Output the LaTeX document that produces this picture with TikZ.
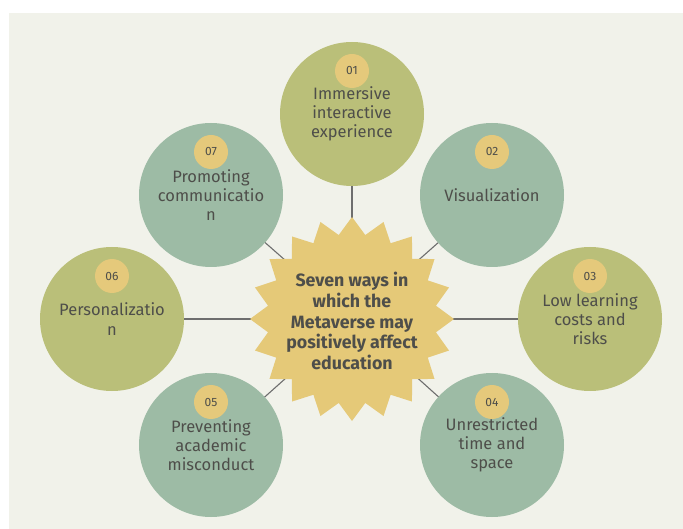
\documentclass[tikz,border=0pt]{standalone}
\usepackage{fontspec}
\setmainfont{Fira Sans}
\definecolor{panelc}{HTML}{F1F2EA}
\definecolor{olivefill}{HTML}{BABF79}
\definecolor{sagefill}{HTML}{9DBBA5}
\definecolor{badgefill}{HTML}{E5C97B}
\definecolor{starfill}{HTML}{E5C978}
\definecolor{inkc}{HTML}{4E4E4A}
\definecolor{linkc}{HTML}{6E6E6E}
\pgfdeclarelayer{bg}
\pgfsetlayers{bg,main}
\begin{document}
\begin{tikzpicture}[x=1pt,y=-1pt,
  bubble/.style={circle,minimum size=144pt,inner sep=0pt,draw=none,
    align=center,text=inkc,font=\fontsize{16.5}{19.2}\selectfont},
  olive/.style={bubble,fill=olivefill},
  sage/.style={bubble,fill=sagefill},
  badge/.style={circle,fill=badgefill,minimum size=34pt,inner sep=0pt,
    text=inkc,font=\fontsize{12}{14}\selectfont},
  link/.style={draw=linkc,line width=1.1pt}]
\useasboundingbox (0,0) rectangle (683,529);

% centre burst
\coordinate (hub) at (352,319);
\fill[starfill] ([shift={(90:102)}]hub)
  \foreach \i [evaluate=\i as \r using {ifthenelse(mod(\i,2)==0,102,85)}] in {1,...,39}
    { -- ([shift={({90+\i*9}:\r)}]hub) } -- cycle;
\node[align=center,text=inkc,font=\fontsize{17.8}{20.8}\selectfont\bfseries] (title) at ([yshift=-2pt]hub)
  {Seven ways in\\which the\\Metaverse may\\positively affect\\education};

% surrounding circles
\node[olive] (c1) at (352,114) {Immersive\\interactive\\experience};
\node[sage]  (c2) at (492,195) {Visualization};
\node[olive] (c3) at (590,319) {Low learning\\costs and\\risks};
\node[sage]  (c4) at (492,445) {Unrestricted\\time and\\space};
\node[sage]  (c5) at (211,445) {Preventing\\academic\\misconduct};
\node[olive] (c6) at (112,319) {Personalizatio\\n};
\node[sage]  (c7) at (211,195) {Promoting\\communicatio\\n};

% number badges
\node[badge] (b1) at (352,71)  {01};
\node[badge] (b2) at (492,152) {02};
\node[badge] (b3) at (590,276) {03};
\node[badge] (b4) at (492,402) {04};
\node[badge] (b5) at (211,402) {05};
\node[badge] (b6) at (112,276) {06};
\node[badge] (b7) at (211,152) {07};

\begin{pgfonlayer}{bg}
  \fill[panelc] (9,13) rectangle (683,529);
  \foreach \k in {1,...,7} { \draw[link] (hub) -- (c\k.center); }
\end{pgfonlayer}
\end{tikzpicture}
\end{document}
